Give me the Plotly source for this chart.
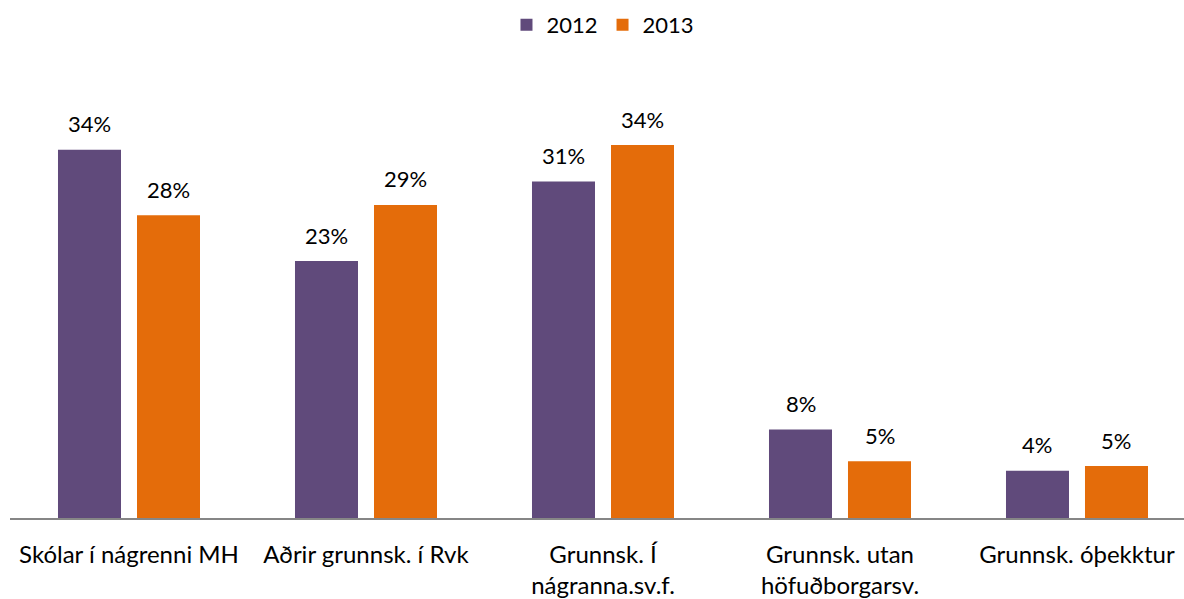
import plotly.graph_objects as go

categories = ["Skólar í nágrenni MH", "Aðrir grunnsk. í Rvk", "Grunnsk. Í nágranna.sv.f.",
              "Grunnsk. utan höfuðborgarsv.", "Grunnsk. óþekktur"]
tick_labels = ["Skólar í nágrenni MH", "Aðrir grunnsk. í Rvk", "Grunnsk. Í<br>nágranna.sv.f.",
               "Grunnsk. utan<br>höfuðborgarsv.", "Grunnsk. óþekktur"]
series_names = ["2012", "2013"]
values_2012 = [0.3355, 0.2341, 0.3066, 0.0807, 0.0431]
values_2013 = [0.2759, 0.2852, 0.3397, 0.0518, 0.0473]

colors = {"2012": "#604A7B", "2013": "#E46C0A"}
FONT = "Lato, Carlito, Calibri, sans-serif"
FS = 22
TICK_FS = 24

fig = go.Figure()
offsets = {"2012": -39.5, "2013": 39.5}
annotations = []
for name, vals in zip(series_names, [values_2012, values_2013]):
    fig.add_trace(go.Bar(x=categories, y=vals, name=name, marker_color=colors[name],
                         marker_line_width=0))
    for c, v in zip(categories, vals):
        annotations.append(dict(x=c, y=v, xref="x", yref="y", text=f"{v:.0%}",
                                showarrow=False, xshift=offsets[name], yshift=26,
                                yanchor="middle", font=dict(family=FONT, size=FS, color="#000000")))

fig.update_layout(
    width=1184, height=599,
    margin=dict(l=10, r=0, t=80, b=77),
    paper_bgcolor="white", plot_bgcolor="white",
    barmode="group", bargap=0.3333, bargroupgap=0.2025,
    font=dict(family=FONT, size=FS, color="#000000"),
    showlegend=True,
    legend=dict(orientation="h", x=0.5051, xanchor="center", y=1 - 25 / 599, yref="container",
                yanchor="middle", font=dict(family=FONT, size=FS), traceorder="normal"),
    annotations=annotations,
)
fig.update_xaxes(tickmode="array", tickvals=categories, ticktext=tick_labels,
                 range=[-0.5021, 4.4515], showline=True, linecolor="#868686", linewidth=1.5,
                 ticks="", showgrid=False, ticklabelstandoff=14,
                 tickfont=dict(family=FONT, size=TICK_FS, color="#000000"))
fig.update_yaxes(range=[0, 0.399], visible=False, showgrid=False, zeroline=False)

fig.write_html("out.html", config={"displayModeBar": False},
               post_script="document.body.style.margin='0';document.body.style.overflow='hidden';")
